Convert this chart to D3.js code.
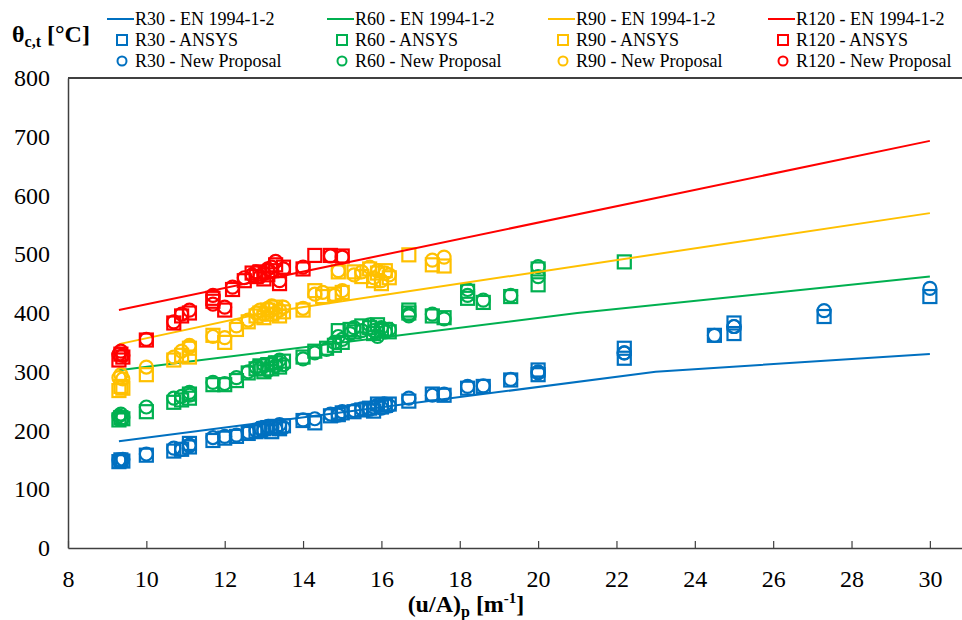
<!DOCTYPE html>
<html>

<head>
  <meta charset="utf-8">
  <title>Critical temperature vs section factor</title>
  <script src="https://cdnjs.cloudflare.com/ajax/libs/d3/7.8.5/d3.min.js"></script>

  <style>
    body {
      margin: 0;
      background: #fff;
    }

    svg text {
      font-family: "Liberation Serif", "Times New Roman", serif;
      fill: #000;
    }
  </style>
</head>

<body>
  <script>
    // ---- data ----
    var ratings = ["R30", "R60", "R90", "R120"];
    var colors = ["#0070C0", "#00B050", "#FFC000", "#FF0000"];

    // EN 1994-1-2 lines (breakpoints)
    var r30EnX = [9.3, 23, 30], r30EnY = [181.7, 300, 330.4];
    var r60EnX = [9.3, 21, 30], r60EnY = [302.5, 400, 462];
    var r90EnX = [9.3, 13, 30], r90EnY = [347, 400, 570];
    var r120EnX = [9.3, 30], r120EnY = [405, 693];

    // points per rating: section factor, ANSYS, new proposal
    var r30X = [9.3, 9.35, 9.4, 10.0, 10.7, 10.9, 11.1, 11.1, 11.7, 12.0, 12.3, 12.6, 12.8, 12.9, 13.0, 13.1, 13.2, 13.3, 13.4, 13.5, 14.0, 14.3, 14.7, 14.9, 15.0, 15.3, 15.5, 15.7, 15.8, 15.9, 16.0, 16.1, 16.2, 16.7, 17.3, 17.6, 18.2, 18.6, 19.3, 20.0, 20.0, 22.2, 22.2, 24.5, 25.0, 25.0, 27.3, 30.0];
    var r30Ansys = [147, 150, 148, 158, 165, 168, 172, 178, 183, 187, 190, 195, 198, 200, 203, 205, 198, 207, 203, 208, 217, 213, 225, 227, 230, 232, 235, 238, 233, 245, 240, 243, 245, 250, 262, 260, 272, 275, 286, 303, 295, 340, 323, 362, 383, 365, 394, 428];
    var r30Prop = [150, 148, 151, 160, 170, 168, 175, 174, 188, 190, 192, 197, 200, 204, 200, 207, 205, 203, 210, 205, 218, 220, 228, 226, 232, 234, 237, 236, 240, 243, 238, 245, 242, 255, 260, 262, 275, 276, 287, 298, 300, 332, 332, 362, 377, 377, 404, 442];

    var r60X = [9.3, 9.35, 9.4, 10.0, 10.7, 10.9, 11.1, 11.1, 11.7, 12.0, 12.3, 12.6, 12.8, 12.9, 13.0, 13.1, 13.2, 13.3, 13.4, 13.5, 14.0, 14.3, 14.6, 14.8, 14.9, 15.0, 15.2, 15.3, 15.5, 15.7, 15.8, 15.9, 16.0, 16.1, 16.2, 16.7, 16.7, 17.3, 17.6, 18.2, 18.2, 18.6, 19.3, 20.0, 20.0, 22.2];
    var r60Ansys = [218, 222, 220, 232, 248, 252, 255, 262, 278, 278, 285, 298, 305, 310, 300, 312, 305, 315, 308, 318, 325, 335, 340, 345, 370, 350, 372, 368, 378, 375, 365, 380, 370, 372, 368, 400, 405, 395, 392, 437, 425, 418, 428, 448, 475, 487];
    var r60Prop = [225, 228, 222, 240, 255, 258, 265, 260, 282, 280, 290, 300, 308, 305, 312, 302, 315, 310, 320, 312, 322, 332, 338, 350, 360, 355, 365, 375, 370, 380, 370, 360, 375, 368, 372, 395, 398, 398, 390, 440, 430, 422, 430, 462, 479, null];

    var r90X = [9.3, 9.35, 9.4, 10.0, 10.7, 10.9, 11.1, 11.1, 11.7, 12.0, 12.3, 12.6, 12.8, 12.9, 13.0, 13.1, 13.2, 13.3, 13.4, 13.5, 14.0, 14.3, 14.5, 14.8, 14.9, 15.0, 15.3, 15.5, 15.7, 15.8, 15.9, 16.0, 16.1, 16.2, 16.7, 17.3, 17.6];
    var r90Ansys = [268, 275, 272, 295, 320, 328, 325, 340, 362, 350, 372, 385, 395, 400, 392, 405, 398, 410, 395, 402, 405, 438, 428, 432, 470, 435, 470, 462, 475, 455, 468, 450, 472, 460, 499, 482, 480];
    var r90Prop = [290, 295, 288, 308, 325, 335, 345, 342, 360, 358, 378, 388, 400, 405, 398, 408, 412, 400, 405, 410, 408, 432, 435, 430, 472, 438, 465, 470, 478, 460, 472, 455, 468, 465, null, 490, 495];

    var r120X = [9.3, 9.35, 9.4, 10.0, 10.7, 10.9, 11.1, 11.7, 11.7, 12.0, 12.2, 12.5, 12.7, 12.8, 12.9, 13.0, 13.1, 13.2, 13.3, 13.4, 13.5, 14.0, 14.3, 14.7, 15.0];
    var r120Ansys = [320, 330, 325, 354, 383, 395, 400, 425, 420, 405, 440, 455, 468, 462, 470, 458, 465, 472, 482, 450, 478, 475, 498, 498, 497];
    var r120Prop = [330, 335, 328, 355, 385, 398, 405, 430, 415, 410, 444, 460, 465, 470, 462, 468, 475, 478, 488, 455, 475, 478, null, 497, 495];

    var xTicks = [8, 10, 12, 14, 16, 18, 20, 22, 24, 26, 28, 30];
    var yTicks = [0, 100, 200, 300, 400, 500, 600, 700, 800];

    // ---- build series ----
    function pairs(xs, ys) {
      return xs.map(function (v, i) { return [v, ys[i]]; })
        .filter(function (d) { return d[1] != null; });
    }

    var series = [
      { name: "R30", color: colors[0], en: pairs(r30EnX, r30EnY), ansys: pairs(r30X, r30Ansys), prop: pairs(r30X, r30Prop) },
      { name: "R60", color: colors[1], en: pairs(r60EnX, r60EnY), ansys: pairs(r60X, r60Ansys), prop: pairs(r60X, r60Prop) },
      { name: "R90", color: colors[2], en: pairs(r90EnX, r90EnY), ansys: pairs(r90X, r90Ansys), prop: pairs(r90X, r90Prop) },
      { name: "R120", color: colors[3], en: pairs(r120EnX, r120EnY), ansys: pairs(r120X, r120Ansys), prop: pairs(r120X, r120Prop) }
    ];

    var W = 962, H = 620;
    var svg = d3.select("body").append("svg").attr("width", W).attr("height", H);

    var x = d3.scaleLinear().domain([8, 30.82]).range([68, 962]);
    var y = d3.scaleLinear().domain([0, 800]).range([548, 78]);

    // top border of plot area
    svg.append("line")
      .attr("x1", 68).attr("x2", 962).attr("y1", y(800)).attr("y2", y(800))
      .attr("stroke", "#404040").attr("stroke-width", 2);

    // axes
    var yAxis = svg.append("g").attr("transform", "translate(68,0)")
      .call(d3.axisLeft(y).tickValues(yTicks).tickSize(0).tickPadding(18));
    var xAxis = svg.append("g").attr("transform", "translate(0,548)")
      .call(d3.axisBottom(x).tickValues(xTicks).tickSizeInner(-7).tickSizeOuter(0).tickPadding(22));

    [xAxis, yAxis].forEach(function (g) {
      g.select(".domain").attr("stroke", "#404040").attr("stroke-width", 1.5);
      g.selectAll(".tick line").attr("stroke", "#404040").attr("stroke-width", 1.2);
      g.selectAll("text").attr("font-size", 24).attr("font-family", "Liberation Serif");
    });

    // marks
    var line = d3.line().x(function (d) { return x(d[0]); }).y(function (d) { return y(d[1]); });
    var plot = svg.append("g");
    var sq = 13, rad = 6.5;

    series.forEach(function (s) {
      plot.append("path").datum(s.en)
        .attr("d", line).attr("fill", "none")
        .attr("stroke", s.color).attr("stroke-width", 2);

      plot.append("g").selectAll("rect").data(s.ansys).enter().append("rect")
        .attr("x", function (d) { return x(d[0]) - sq / 2; })
        .attr("y", function (d) { return y(d[1]) - sq / 2; })
        .attr("width", sq).attr("height", sq)
        .attr("fill", "none").attr("stroke", s.color).attr("stroke-width", 2.2);

      plot.append("g").selectAll("circle").data(s.prop).enter().append("circle")
        .attr("cx", function (d) { return x(d[0]); })
        .attr("cy", function (d) { return y(d[1]); })
        .attr("r", rad)
        .attr("fill", "none").attr("stroke", s.color).attr("stroke-width", 2.2);
    });

    // legend
    var legX = [107, 327, 548, 768];
    var legY = [19, 40, 61];
    var leg = svg.append("g").attr("font-size", 18);
    series.forEach(function (s, i) {
      var g = leg.append("g").attr("transform", "translate(" + legX[i] + ",0)");
      g.append("line").attr("x1", 0).attr("x2", 27).attr("y1", legY[0]).attr("y2", legY[0])
        .attr("stroke", s.color).attr("stroke-width", 2);
      g.append("rect").attr("x", 15 - 5).attr("y", legY[1] - 5).attr("width", 10).attr("height", 10)
        .attr("fill", "none").attr("stroke", s.color).attr("stroke-width", 2);
      g.append("circle").attr("cx", 15).attr("cy", legY[2]).attr("r", 4.5)
        .attr("fill", "none").attr("stroke", s.color).attr("stroke-width", 2);
      var labels = [s.name + " - EN 1994-1-2", s.name + " - ANSYS", s.name + " - New Proposal"];
      labels.forEach(function (t, j) {
        g.append("text").attr("x", 28).attr("y", legY[j] + 6).attr("font-size", 18).text(t);
      });
    });

    // axis titles
    var yt = svg.append("text").attr("x", 12).attr("y", 42)
      .attr("font-weight", "bold").attr("font-size", 24);
    yt.append("tspan").text("θ");
    yt.append("tspan").attr("font-size", 16).attr("dy", 5).text("c,t");
    yt.append("tspan").attr("dy", -5).text(" [°C]");

    var xt = svg.append("text").attr("x", 466).attr("y", 612)
      .attr("text-anchor", "middle").attr("font-weight", "bold").attr("font-size", 24);
    xt.append("tspan").text("(u/A)");
    xt.append("tspan").attr("font-size", 16).attr("dy", 5).text("p");
    xt.append("tspan").attr("dy", -5).text(" [m");
    xt.append("tspan").attr("font-size", 15).attr("dy", -9).text("-1");
    xt.append("tspan").attr("dy", 9).text("]");
  </script>
</body>

</html>
